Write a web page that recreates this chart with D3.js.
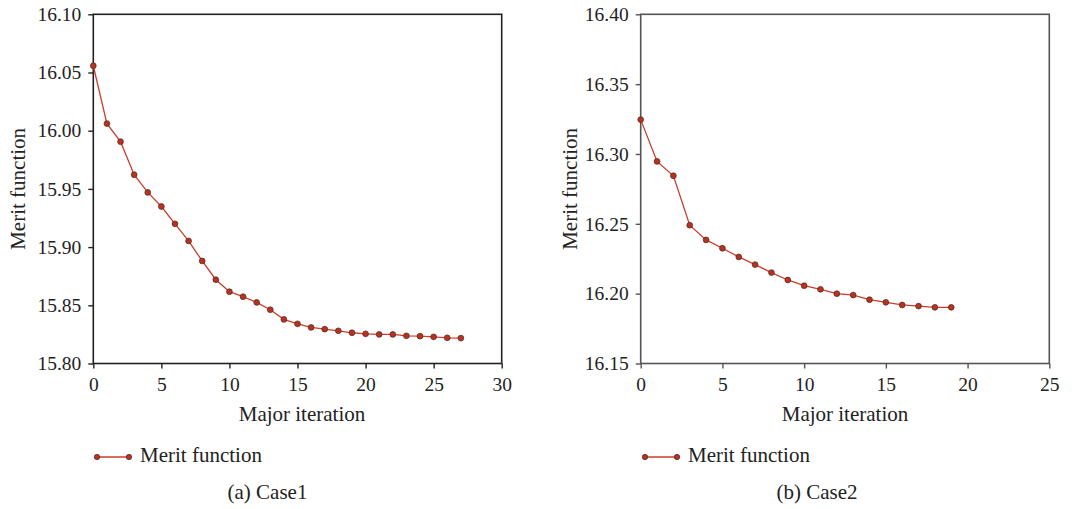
<!DOCTYPE html>
<html>
<head>
<meta charset="utf-8">
<script src="https://cdn.jsdelivr.net/npm/d3@7"></script>
<style>
  body { margin: 0; background: #fff; }
  svg text { font-family: "Liberation Serif", "Times New Roman", Times, serif; fill: #222; }
</style>
</head>
<body>
<div id="chart"></div>
<script>
// case 1 merit function per major iteration
const case1Iter = d3.range(0, 28);
const case1Merit = [16.0558, 16.0061, 15.9906, 15.9622, 15.9470, 15.9349, 15.9200, 15.9053,
  15.8881, 15.8720, 15.8617, 15.8574, 15.8525, 15.8462, 15.8379, 15.8341, 15.8310, 15.8295,
  15.8281, 15.8264, 15.8255, 15.8250, 15.8250, 15.8238, 15.8235, 15.8229, 15.8221, 15.8218];
const case1XTicks = [0, 5, 10, 15, 20, 25, 30];
const case1YTicks = [15.80, 15.85, 15.90, 15.95, 16.00, 16.05, 16.10];

// case 2
const case2Iter = d3.range(0, 20);
const case2Merit = [16.3246, 16.2947, 16.2844, 16.2490, 16.2385, 16.2325, 16.2263, 16.2208,
  16.2151, 16.2098, 16.2057, 16.2031, 16.2000, 16.1990, 16.1957, 16.1938, 16.1919, 16.1911,
  16.1902, 16.1902];
const case2XTicks = [0, 5, 10, 15, 20, 25];
const case2YTicks = [16.15, 16.20, 16.25, 16.30, 16.35, 16.40];

const seriesName = "Merit function";
const xTitle = "Major iteration";
const captions = ["(a) Case1", "(b) Case2"];

const W = 1081, H = 509;
const serif = '"Liberation Serif", "Times New Roman", Times, serif';
const tickFs = 19.5, fs = 21;
const lineColor = "#c83f2b", dotFill = "#b8321f", dotStroke = "#4a2a22";

const svg = d3.select("#chart").append("svg")
  .attr("width", W).attr("height", H)
  .attr("font-family", serif);

const panels = [
  { iter: case1Iter, vals: case1Merit, xt: case1XTicks, yt: case1YTicks, caption: captions[0],
    left: 93.3, right: 501.7, frame: "#222", ylab: 18, titleX: 302, legX: 97, capX: 267.5 },
  { iter: case2Iter, vals: case2Merit, xt: case2XTicks, yt: case2YTicks, caption: captions[1],
    left: 640.7, right: 1049.3, frame: "#555", ylab: 570, titleX: 845, legX: 645, capX: 817 }
];
const plotTop = 14.3, plotBottom = 363.5;

panels.forEach(p => {
  const x = d3.scaleLinear().domain(d3.extent(p.xt)).range([p.left, p.right]);
  const y = d3.scaleLinear().domain(d3.extent(p.yt)).range([plotBottom, plotTop]);
  const g = svg.append("g");

  // frame
  g.append("rect")
    .attr("x", p.left).attr("y", plotTop)
    .attr("width", p.right - p.left).attr("height", plotBottom - plotTop)
    .attr("fill", "none").attr("stroke", p.frame).attr("stroke-width", 1.6);

  const xAxis = g.append("g")
    .attr("transform", `translate(0,${plotBottom})`)
    .call(d3.axisBottom(x).tickValues(p.xt).tickSize(5).tickPadding(9).tickFormat(d3.format("d")));
  const yAxis = g.append("g")
    .attr("transform", `translate(${p.left},0)`)
    .call(d3.axisLeft(y).tickValues(p.yt).tickSize(5).tickPadding(7).tickFormat(d3.format(".2f")));

  [xAxis, yAxis].forEach(a => {
    a.attr("font-family", serif).attr("font-size", tickFs);
    a.select(".domain").remove();
    a.selectAll("line").attr("stroke", p.frame).attr("stroke-width", 1.4);
    a.selectAll("text").attr("fill", "#222");
  });

  const line = d3.line().x((d, i) => x(p.iter[i])).y(d => y(d));
  g.append("path").datum(p.vals)
    .attr("d", line).attr("fill", "none")
    .attr("stroke", lineColor).attr("stroke-width", 1.3);

  g.selectAll(".dot").data(p.vals).enter().append("circle")
    .attr("class", "dot")
    .attr("cx", (d, i) => x(p.iter[i])).attr("cy", d => y(d))
    .attr("r", 2.9).attr("fill", dotFill)
    .attr("stroke", dotStroke).attr("stroke-width", 0.7);

  g.append("text")
    .attr("x", p.titleX).attr("y", 421)
    .attr("text-anchor", "middle").attr("font-size", fs)
    .text(xTitle);

  g.append("text")
    .attr("transform", `translate(${p.ylab},${(plotTop + plotBottom) / 2}) rotate(-90)`)
    .attr("text-anchor", "middle").attr("dy", "0.35em").attr("font-size", fs)
    .text(seriesName);

  // legend
  const lg = g.append("g").attr("transform", `translate(${p.legX},457)`);
  lg.append("line").attr("x1", 0).attr("x2", 32).attr("y1", 0).attr("y2", 0)
    .attr("stroke", lineColor).attr("stroke-width", 1.5);
  lg.selectAll("circle").data([0, 32]).enter().append("circle")
    .attr("cx", d => d).attr("cy", 0).attr("r", 2.7)
    .attr("fill", dotFill).attr("stroke", dotStroke).attr("stroke-width", 0.7);
  lg.append("text").attr("x", 43).attr("y", 5).attr("font-size", fs).text(seriesName);

  g.append("text")
    .attr("x", p.capX).attr("y", 499)
    .attr("text-anchor", "middle").attr("font-size", fs)
    .text(p.caption);
});
</script>
</body>
</html>
